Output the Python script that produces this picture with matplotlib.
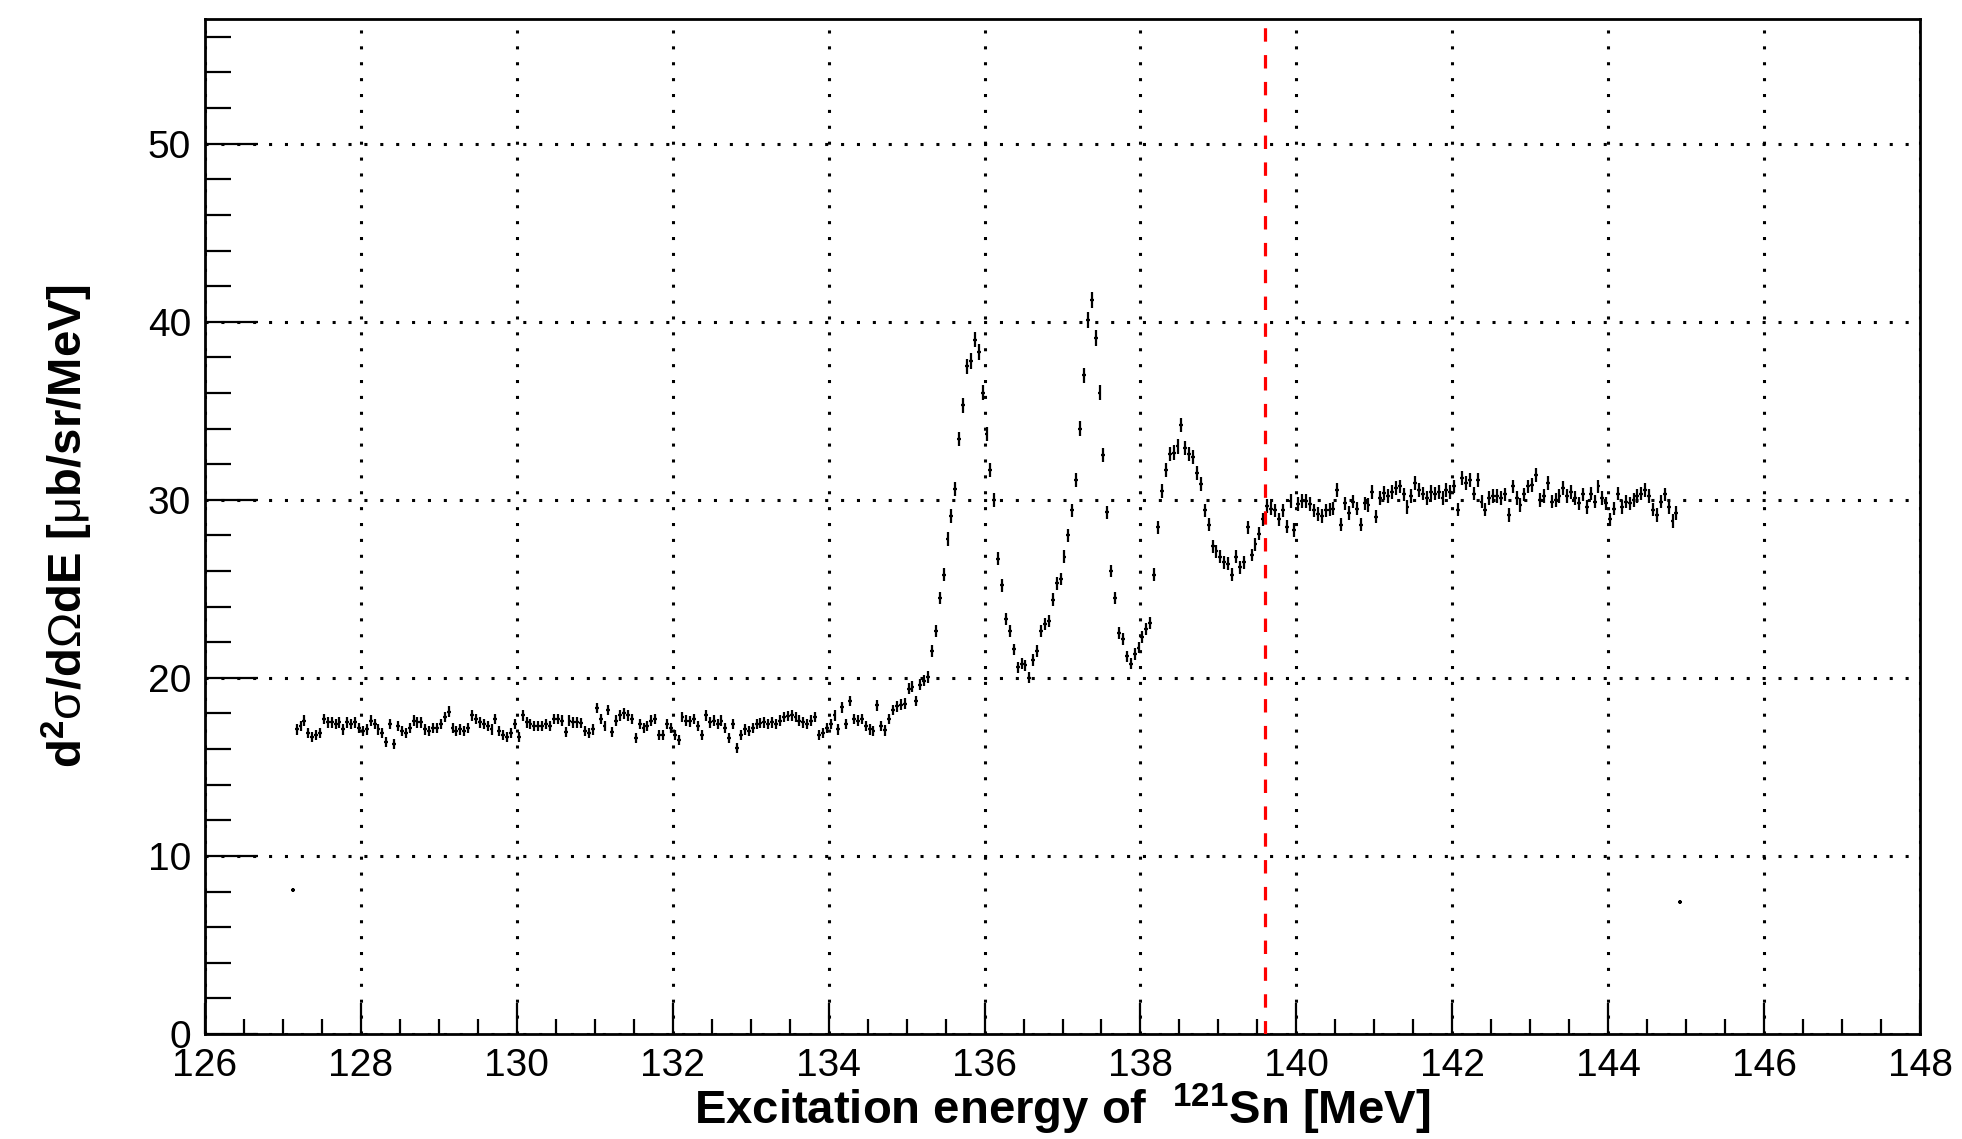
import numpy as np
import matplotlib
matplotlib.use("Agg")
import matplotlib.pyplot as plt
from matplotlib.ticker import MultipleLocator

plt.rcParams['font.family'] = ['Liberation Sans', 'DejaVu Sans']
plt.rcParams['mathtext.fontset'] = 'custom'
plt.rcParams['mathtext.rm'] = 'Liberation Sans'
plt.rcParams['mathtext.bf'] = 'Liberation Sans:bold'
plt.rcParams['mathtext.it'] = 'Liberation Sans:italic'

# histogram binning (MeV)
bin_width = 0.05
first_center = 127.175

# cross section per bin [ub/sr/MeV], 127.175 - 130.475 MeV
xs_flat_a = [17.1, 17.3, 17.6, 16.9, 16.7, 16.8, 16.9, 17.7, 17.5, 17.5,
             17.4, 17.5, 17.1, 17.5, 17.4, 17.5, 17.2, 17.0, 17.1, 17.6,
             17.4, 17.1, 16.9, 16.4, 17.4, 16.3, 17.3, 17.0, 16.9, 17.2,
             17.6, 17.5, 17.5, 17.1, 17.0, 17.2, 17.2, 17.4, 17.8, 18.1,
             17.2, 17.0, 17.1, 17.0, 17.2, 17.9, 17.7, 17.5, 17.4, 17.3,
             17.1, 17.7, 17.0, 16.8, 16.7, 16.9, 17.4, 16.7, 17.9, 17.5,
             17.4, 17.3, 17.3, 17.3, 17.4, 17.3, 17.7]
# 130.525 - 134.025 MeV
xs_flat_b = [17.7, 17.6, 16.95, 17.6, 17.5, 17.5, 17.45, 17.0, 16.9, 17.1,
             18.3, 17.7, 17.3, 18.2, 16.95, 17.6, 17.9, 18.0, 17.9, 17.7,
             16.6, 17.4, 17.2, 17.3, 17.6, 17.7, 16.8, 16.8, 17.4, 17.2,
             16.8, 16.5, 17.8, 17.6, 17.55, 17.7, 17.3, 16.8, 17.9, 17.5,
             17.6, 17.4, 17.6, 17.2, 16.6, 17.4, 16.05, 16.8, 17.1, 17.0,
             17.2, 17.4, 17.45, 17.5, 17.4, 17.5, 17.4, 17.6, 17.8, 17.85,
             17.9, 17.8, 17.6, 17.5, 17.4, 17.6, 17.8, 16.8, 16.9, 17.2,
             17.4]
# 134.075 - 137.375 MeV (first two peaks)
xs_peaks = [17.9, 17.1, 18.35, 17.4, 18.7, 17.7, 17.6, 17.7, 17.3, 17.1,
            17.0, 18.45, 17.3, 17.05, 17.7, 18.2, 18.4, 18.5, 18.55, 19.4,
            19.5, 18.7, 19.6, 19.85, 20.05, 21.5, 22.65, 24.5, 25.8, 27.8,
            29.1, 30.6, 33.4, 35.3, 37.5, 37.8, 39.0, 38.3, 36.0, 33.7,
            31.7, 30.0, 26.7, 25.2, 23.3, 22.65, 21.6, 20.6, 20.8, 20.7,
            20.0, 21.0, 21.5, 22.65, 23.0, 23.2, 24.4, 25.3, 25.55, 26.8,
            28.0, 29.4, 31.1, 34.0, 37.0, 40.1, 41.2]
# 137.425 - 140.375 MeV (third bump, threshold region)
xs_bump = [39.1, 36.0, 32.5, 29.3, 26.0, 24.5, 22.5, 22.2, 21.2, 20.8,
           21.35, 21.7, 22.3, 22.75, 23.1, 25.8, 28.45, 30.5, 31.7, 32.55,
           32.65, 33.0, 34.2, 32.9, 32.55, 32.4, 31.5, 30.9, 29.4, 28.6,
           27.4, 27.1, 26.8, 26.5, 26.4, 25.8, 26.8, 26.2, 26.5, 28.45,
           26.9, 27.5, 28.1, 28.9, 29.65, 29.5, 29.4, 28.9, 29.4, 28.5,
           29.95, 28.3, 29.75, 29.95, 29.95, 29.75, 29.4, 29.2, 29.1, 29.4]
# 140.425 - 144.875 MeV (continuum above threshold)
xs_high = [29.45, 29.5, 30.55, 28.6, 29.8, 29.25, 29.9, 29.5, 28.6, 29.8,
           29.7, 30.45, 29.05, 30.1, 30.4, 30.2, 30.45, 30.65, 30.75, 30.3,
           29.6, 30.2, 30.95, 30.55, 30.35, 30.1, 30.45, 30.35, 30.45, 30.1,
           30.55, 30.45, 30.75, 29.45, 31.2, 30.95, 31.1, 30.35, 31.1, 29.9,
           29.45, 30.1, 30.2, 30.2, 30.1, 30.3, 29.15, 30.75, 30.1, 29.7,
           30.3, 30.75, 30.85, 31.4, 30.0, 30.2, 30.95, 29.9, 30.0, 30.2,
           30.65, 30.2, 30.45, 30.1, 29.8, 30.3, 29.6, 30.35, 29.9, 30.75,
           30.1, 29.8, 28.9, 29.5, 30.35, 29.6, 29.9, 29.8, 30.0, 30.2,
           30.35, 30.55, 30.2, 29.45, 29.15, 29.9, 30.3, 29.6, 28.8, 29.25]

# partially filled edge bins
edge_energy = [127.125, 144.925]
edge_xs = [8.1, 7.4]

threshold = 139.6

xs = np.array(xs_flat_a + xs_flat_b + xs_peaks + xs_bump + xs_high)
energy = first_center + bin_width * np.arange(len(xs))
err = 0.07 * np.sqrt(xs)

fig = plt.figure(figsize=(19.62, 11.39), dpi=100)
ax = fig.add_axes([0.1045, 0.0922, 0.8741, 0.8911])

ax.set_axisbelow(True)
ax.grid(which='major', color='black', linestyle=(0, (1, 4.2)), linewidth=2.2)

# ROOT-style error crosses: horizontal bar spans the bin width
ax.errorbar(energy, xs, xerr=bin_width / 2, yerr=err, fmt='none',
            ecolor='black', elinewidth=1.6, capsize=0, zorder=3)
ax.errorbar(edge_energy, edge_xs, xerr=bin_width / 2,
            yerr=0.04 * np.sqrt(edge_xs), fmt='none', ecolor='black',
            elinewidth=1.6, capsize=0, zorder=3)

ax.axvline(threshold, color='#ff0000', linewidth=2.3, linestyle=(0, (4.2, 4.2)),
           zorder=4)

ax.set_xlim(126, 148)
ax.set_ylim(0, 57)
ax.xaxis.set_major_locator(MultipleLocator(2))
ax.xaxis.set_minor_locator(MultipleLocator(0.5))
ax.yaxis.set_major_locator(MultipleLocator(10))
ax.yaxis.set_minor_locator(MultipleLocator(2))

for s in ax.spines.values():
    s.set_linewidth(2.0)

ax.tick_params(which='both', direction='in', top=False, right=False,
               labelsize=28, width=1.6, color='black')
ax.tick_params(axis='y', which='major', length=38, pad=10)
ax.tick_params(axis='y', which='minor', length=19)
ax.tick_params(axis='x', which='major', length=22, pad=10)
ax.tick_params(axis='x', which='minor', length=11)

ax.set_xlabel(r'Excitation energy of  $^{\mathbf{121}}$Sn [MeV]',
              fontsize=34, fontweight='bold', va='baseline')
ax.xaxis.set_label_coords(0.5, -0.0887)
ax.set_ylabel(r'd$^{\mathbf{2}}$$\mathrm{\sigma}$/d$\mathrm{\Omega}$dE '
              r'[$\mathrm{\mu}$b/sr/MeV]',
              fontsize=34, fontweight='bold', va='center')
ax.yaxis.set_label_coords(-0.080, 0.5)

fig.savefig('out.png', dpi=100)
